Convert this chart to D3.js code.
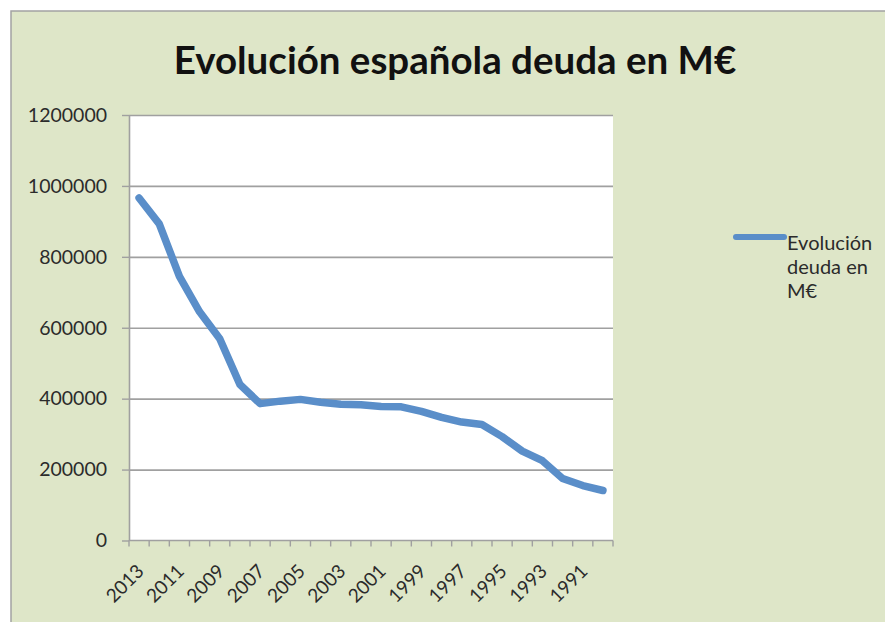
<!DOCTYPE html>
<html>
<head>
<meta charset="utf-8">
<script src="https://cdn.jsdelivr.net/npm/d3@7"></script>
<style>
  body { margin: 0; background: #fff; }
  svg { display: block; }
</style>
</head>
<body>
<div class="chart"></div>
<script>
var svgWidth = 885;
var svgHeight = 622;

// data (millions of euros)
var years = ["2013", "2012", "2011", "2010", "2009", "2008", "2007", "2006",
  "2005", "2004", "2003", "2002", "2001", "2000", "1999", "1998", "1997",
  "1996", "1995", "1994", "1993", "1992", "1991", "1990"];
var deuda = [966000, 893000, 745000, 645000, 569000, 440000, 386000, 393000,
  398000, 390000, 384000, 383000, 378000, 377000, 364000, 347000, 334000,
  327000, 293000, 252000, 225000, 175000, 155000, 141000];
var yTicks = [0, 200000, 400000, 600000, 800000, 1000000, 1200000];
var xTickLabels = ["2013", "2011", "2009", "2007", "2005", "2003", "2001",
  "1999", "1997", "1995", "1993", "1991"];
var title = "Evolución española deuda en M€";
var legendLines = ["Evolución", "deuda en", "M€"];

var plot = { left: 129, right: 613, top: 115, bottom: 540.5 };
var lineColor = "#5a8ec9";
var font = "Lato, 'Open Sans', sans-serif";

var svg = d3.select(".chart")
  .append("svg")
  .attr("width", svgWidth)
  .attr("height", svgHeight);

// chart background + border
svg.append("rect")
  .attr("x", 11)
  .attr("y", 11)
  .attr("width", svgWidth + 20)
  .attr("height", svgHeight + 20)
  .attr("fill", "#dee6c8")
  .attr("stroke", "#a3a3a3")
  .attr("stroke-width", 1.5);

// title
svg.append("text")
  .attr("x", 455)
  .attr("y", 74)
  .attr("text-anchor", "middle")
  .style("font-family", font)
  .style("font-weight", "bold")
  .style("font-size", "38.5px")
  .attr("fill", "#111")
  .text(title);

// scales
var xBand = d3.scaleBand()
  .domain(years)
  .range([plot.left, plot.right])
  .padding(0);

var xCenter = d => xBand(d) + xBand.bandwidth() / 2;

var yScale = d3.scaleLinear()
  .domain([0, 1200000])
  .range([plot.bottom, plot.top]);

// plot area
svg.append("rect")
  .attr("x", plot.left)
  .attr("y", plot.top)
  .attr("width", plot.right - plot.left)
  .attr("height", plot.bottom - plot.top)
  .attr("fill", "#ffffff");

// gridlines
var grid = svg.append("g")
  .attr("transform", `translate(${plot.left}, 0)`)
  .call(d3.axisLeft(yScale)
    .tickValues(yTicks.slice(1))
    .tickSize(-(plot.right - plot.left))
    .tickFormat(""));
grid.select(".domain").remove();
grid.selectAll("line")
  .attr("stroke", "#a0a0a0")
  .attr("stroke-width", 1.6);

// y axis
var yAxis = svg.append("g")
  .attr("transform", `translate(${plot.left}, 0)`)
  .call(d3.axisLeft(yScale)
    .tickValues(yTicks)
    .tickSize(7)
    .tickSizeOuter(0)
    .tickPadding(15)
    .tickFormat(d3.format("d")));
yAxis.select(".domain").attr("stroke", "#a0a0a0").attr("stroke-width", 1.6);
yAxis.selectAll(".tick line").attr("stroke", "#a0a0a0").attr("stroke-width", 1.4);
yAxis.selectAll("text")
  .style("font-family", font)
  .style("font-size", "19.5px")
  .attr("fill", "#2b2b2b");

// x axis (ticks at category boundaries)
var xAxisG = svg.append("g");
xAxisG.append("line")
  .attr("x1", plot.left)
  .attr("x2", plot.right)
  .attr("y1", plot.bottom)
  .attr("y2", plot.bottom)
  .attr("stroke", "#a0a0a0")
  .attr("stroke-width", 1.6);

var bounds = years.map(d => xBand(d)).concat([plot.right]);
xAxisG.selectAll(".xtick")
  .data(bounds)
  .enter()
  .append("line")
  .attr("class", "xtick")
  .attr("x1", d => d)
  .attr("x2", d => d)
  .attr("y1", plot.bottom)
  .attr("y2", plot.bottom + 6)
  .attr("stroke", "#a0a0a0")
  .attr("stroke-width", 1.4);

xAxisG.selectAll(".xlabel")
  .data(xTickLabels)
  .enter()
  .append("text")
  .attr("class", "xlabel")
  .attr("transform", d => `translate(${xCenter(d) + 6}, ${plot.bottom + 32}) rotate(-45)`)
  .attr("text-anchor", "end")
  .style("font-family", font)
  .style("font-size", "19px")
  .attr("fill", "#2b2b2b")
  .text(d => d);

// the series line
var line = d3.line()
  .x((d, i) => xCenter(years[i]))
  .y(d => yScale(d));

svg.append("path")
  .datum(deuda)
  .attr("d", line)
  .attr("fill", "none")
  .attr("stroke", lineColor)
  .attr("stroke-width", 7.5)
  .attr("stroke-linejoin", "round")
  .attr("stroke-linecap", "round");

// legend
var legend = svg.append("g");
legend.append("line")
  .attr("x1", 736)
  .attr("x2", 784)
  .attr("y1", 237)
  .attr("y2", 237)
  .attr("stroke", lineColor)
  .attr("stroke-width", 6)
  .attr("stroke-linecap", "round");

legend.selectAll("text")
  .data(legendLines)
  .enter()
  .append("text")
  .attr("x", 787)
  .attr("y", (d, i) => 250 + i * 24)
  .style("font-family", font)
  .style("font-size", "20px")
  .attr("fill", "#2b2b2b")
  .text(d => d);
</script>
</body>
</html>
